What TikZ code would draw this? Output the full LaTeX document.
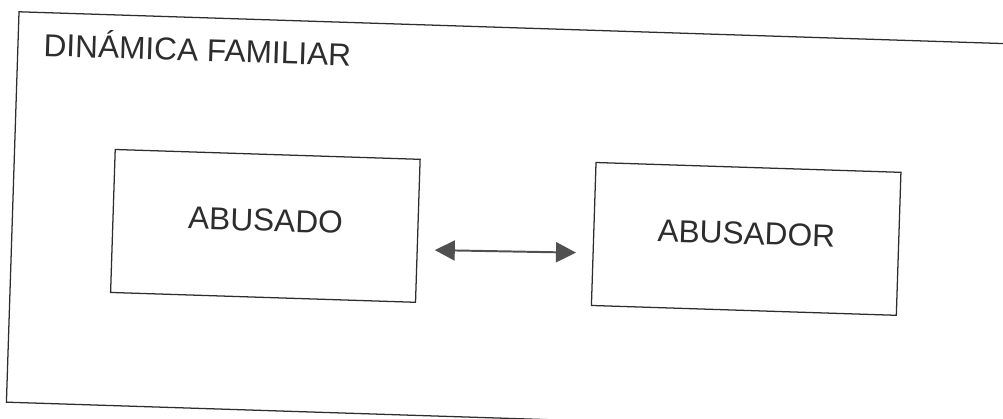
\documentclass[tikz,border=0pt]{standalone}
\usepackage{fontspec}
\setmainfont{Liberation Sans}
\usetikzlibrary{arrows.meta,positioning}
\definecolor{ink}{RGB}{45,45,45}
\definecolor{tip}{RGB}{80,80,80}

\begin{document}
\begin{tikzpicture}[
        x=0.025cm, y=-0.025cm,
        label/.style={font=\fontsize{22.5}{27}\selectfont, color=ink},
        frame/.style={rectangle, draw=ink, line width=0.9pt, minimum width=25.05cm, minimum height=9.7625cm},
        box/.style={rectangle, draw=ink, line width=0.9pt, minimum width=7.625cm, minimum height=3.575cm, text height=0.565cm, text depth=0.3cm, label},
        arrow/.style={{Triangle[length=0.5cm,width=0.5cm]}-{Triangle[length=0.5cm,width=0.5cm]}, line width=1.4pt, color=tip}
    ]
        \clip (0,0) rectangle (1003,419);
        \begin{scope}[rotate around={-1.85:(501.5,209.5)}, transform shape]
        \node[frame] (dinamica) at (514,222.75) {};
        \node[label, anchor=base west, inner sep=0pt] (titulo) at (38.3,70.9) {DINÁMICA FAMILIAR};
        \node[box] (abusado) at (266,233.5) {ABUSADO};
        \node[box] (abusador) at (747,231) {ABUSADOR};

        \draw[arrow, shorten <=0.425cm, shorten >=0.41cm] ([yshift=-0.475cm]abusado.east) -- ([yshift=-0.475cm]abusador.west);
        \end{scope}
    \end{tikzpicture}
\end{document}
